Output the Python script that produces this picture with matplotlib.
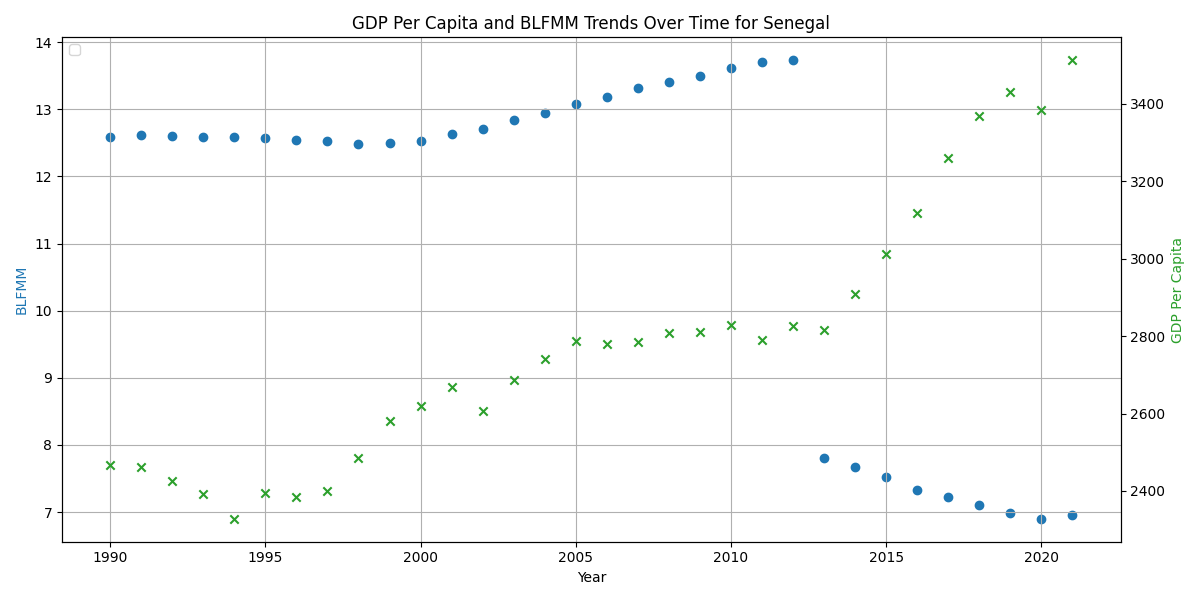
import matplotlib
matplotlib.use('Agg')
import matplotlib.pyplot as plt

years = list(range(1990, 2022))
blfmm = [12.58, 12.62, 12.60, 12.58, 12.58, 12.57, 12.54, 12.52, 12.48, 12.50,
         12.53, 12.63, 12.70, 12.84, 12.95, 13.08, 13.19, 13.31, 13.41, 13.50,
         13.61, 13.70, 13.73, 7.80, 7.67, 7.52, 7.33, 7.22, 7.10, 6.99,
         6.90, 6.96]
gdp_per_capita = [2467, 2462, 2426, 2392, 2328, 2395, 2385, 2400, 2485, 2580,
                  2619, 2668, 2606, 2686, 2740, 2787, 2779, 2784, 2807, 2812,
                  2830, 2789, 2825, 2815, 2910, 3013, 3119, 3261, 3369, 3431,
                  3385, 3513]

fig, ax1 = plt.subplots(figsize=(12, 6), dpi=100)

ax1.scatter(years, blfmm, color='tab:blue', marker='o')
ax1.set_xlabel('Year')
ax1.set_ylabel('BLFMM', color='tab:blue')
ax1.grid(True)

ax2 = ax1.twinx()
ax2.scatter(years, gdp_per_capita, color='tab:green', marker='x')
ax2.set_ylabel('GDP Per Capita', color='tab:green')

ax1.set_title('GDP Per Capita and BLFMM Trends Over Time for Senegal')
ax1.legend(loc='upper left')

fig.tight_layout()
fig.savefig('out.png')
